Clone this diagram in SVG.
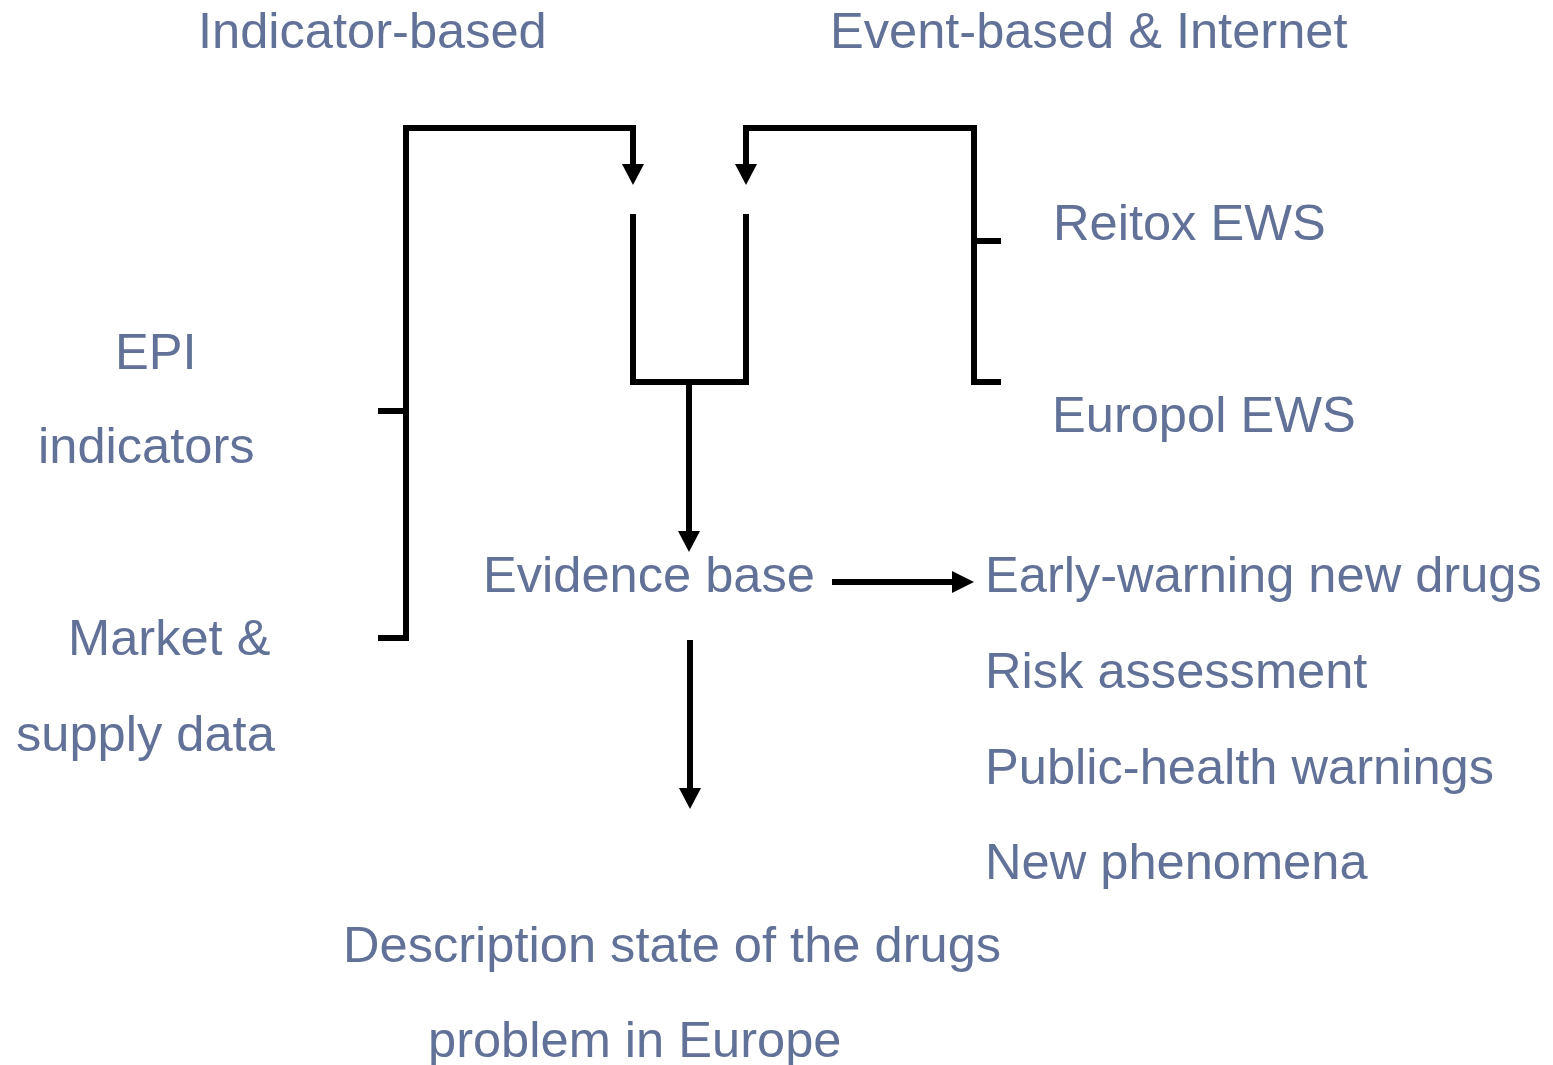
<svg xmlns="http://www.w3.org/2000/svg" width="1553" height="1065" viewBox="0 0 1553 1065">
<style>
text{font-family:"Liberation Sans",Arial,sans-serif;font-size:50.6px;fill:#617198}
.ln{fill:none;stroke:#000;stroke-width:6;stroke-linejoin:miter;stroke-linecap:butt}
.ah{fill:#000;stroke:none}
</style>
<rect width="1553" height="1065" fill="#fff"/>
<g id="connectors">
<path class="ln" d="M378,411 H406 M378,638 H406 M406,641 V128 H633 V168"/>
<polygon class="ah" points="622,164 644,164 633,185"/>
<path class="ln" d="M1001,241 H974 M1001,382 H974 V128 H746 V168"/>
<polygon class="ah" points="735,164 757,164 746,185"/>
<path class="ln" d="M633,214 V382 H746 V214"/>
<path class="ln" d="M689,382 V535"/>
<polygon class="ah" points="678,531 700,531 689,552"/>
<path class="ln" d="M832,582 H956"/>
<polygon class="ah" points="952,571 952,593 974,582"/>
<path class="ln" d="M690,640 V792"/>
<polygon class="ah" points="679,788 701,788 690,809"/>
</g>
<g id="indicator-based"><text x="198" y="48">Indicator-based</text></g>
<g id="event-based"><text x="830" y="48">Event-based &amp; Internet</text></g>
<g id="reitox"><text x="1053" y="240">Reitox EWS</text></g>
<g id="europol"><text x="1052" y="432">Europol EWS</text></g>
<g id="epi"><text x="115" y="369">EPI</text><text x="38" y="463">indicators</text></g>
<g id="market"><text x="68" y="655">Market &amp;</text><text x="16" y="751">supply data</text></g>
<g id="evidence"><text x="483" y="592">Evidence base</text></g>
<g id="outputs">
<text x="985" y="592">Early-warning new drugs</text>
<text x="985" y="688">Risk assessment</text>
<text x="985" y="784">Public-health warnings</text>
<text x="985" y="879">New phenomena</text>
</g>
<g id="description"><text x="343" y="962">Description state of the drugs</text><text x="428" y="1057">problem in Europe</text></g>
</svg>
